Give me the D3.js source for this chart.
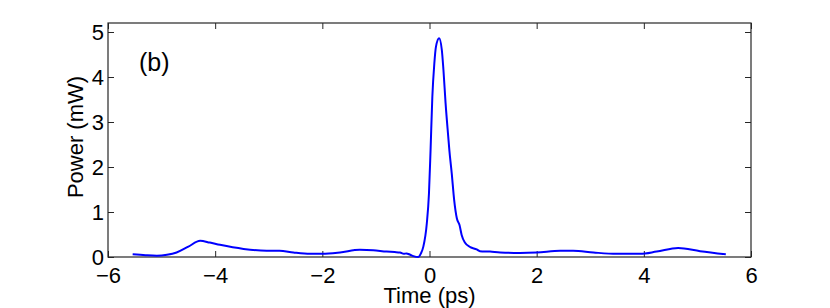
<!DOCTYPE html>
<html>
<head>
<meta charset="utf-8">
<script src="https://cdn.jsdelivr.net/npm/d3@7"></script>
<style>
  body { margin: 0; background: #fff; }
  svg { display: block; font-family: "Liberation Sans", Arial, Helvetica, sans-serif; }
</style>
</head>
<body>
<svg id="chart" width="830" height="308"></svg>
<script>
const timePs = [-5.54,-5.3,-5.09,-4.9,-4.72,-4.5,-4.28,-4.1,-3.91,-3.47,-3.04,-2.8,-2.54,-2.23,-2.0,-1.67,-1.3,-1.05,-0.8,-0.65,-0.55,-0.48,-0.43,-0.36,-0.3,-0.21,-0.16,-0.115,-0.05,-0.01,0.02,0.053,0.09,0.12,0.18,0.23,0.26,0.3,0.35,0.37,0.415,0.46,0.51,0.56,0.6,0.66,0.76,0.88,0.94,1.13,1.32,1.69,2.0,2.44,2.68,3.06,3.49,3.93,4.24,4.64,5.05,5.53];
const powerMw = [0.06,0.04,0.03,0.05,0.10,0.23,0.36,0.32,0.27,0.18,0.14,0.14,0.10,0.07,0.07,0.10,0.16,0.15,0.12,0.11,0.10,0.07,0.08,0.05,0.02,0.00,0.08,0.23,0.75,1.41,2.38,3.56,4.30,4.67,4.86,4.60,4.16,3.42,2.67,2.38,1.86,1.27,0.86,0.71,0.49,0.32,0.22,0.17,0.13,0.12,0.10,0.09,0.10,0.14,0.14,0.10,0.07,0.07,0.12,0.20,0.13,0.06];
const xTicks = [-6,-4,-2,0,2,4,6];
const yTicks = [0,1,2,3,4,5];
const xLabel = "Time (ps)";
const yLabel = "Power (mW)";
const panelLabel = "(b)";

const W = 830, H = 308;
const m = {left: 108, right: 79, top: 23, bottom: 51};
const iw = W - m.left - m.right, ih = H - m.top - m.bottom;

const svg = d3.select("#chart");
const g = svg.append("g").attr("transform", `translate(${m.left},${m.top})`);

const x = d3.scaleLinear().domain([-6, 6]).range([0, iw]);
const y = d3.scaleLinear().domain([0, 5.2]).range([ih, 0]);

const axisColor = "#262626";
const tickLen = 6;
const fs = 22;

function styleAxis(sel, showText) {
  sel.select(".domain").remove();
  sel.selectAll(".tick line").attr("stroke", axisColor).attr("stroke-width", 1);
  sel.selectAll(".tick text").attr("fill", "#000").style("font-size", fs + "px");
  if (!showText) sel.selectAll(".tick text").remove();
}

g.append("g").attr("transform", `translate(0,${ih})`)
  .call(d3.axisBottom(x).tickValues(xTicks).tickSizeInner(-tickLen).tickSizeOuter(0).tickPadding(10).tickFormat(d => d < 0 ? "\u2212" + Math.abs(d) : d))
  .call(s => styleAxis(s, true));
g.append("g")
  .call(d3.axisTop(x).tickValues(xTicks).tickSizeInner(-tickLen).tickSizeOuter(0))
  .call(s => styleAxis(s, false));
g.append("g")
  .call(d3.axisLeft(y).tickValues(yTicks).tickSizeInner(-tickLen).tickSizeOuter(0).tickPadding(4).tickFormat(d3.format("d")))
  .call(s => styleAxis(s, true));
g.append("g").attr("transform", `translate(${iw},0)`)
  .call(d3.axisRight(y).tickValues(yTicks).tickSizeInner(-tickLen).tickSizeOuter(0))
  .call(s => styleAxis(s, false));

g.append("rect").attr("x", 0).attr("y", 0).attr("width", iw).attr("height", ih)
  .attr("fill", "none").attr("stroke", axisColor).attr("stroke-width", 1.2);

const data = timePs.map((t, i) => ({t, p: powerMw[i]}));
g.append("path").datum(data)
  .attr("fill", "none").attr("stroke", "#0000ff").attr("stroke-width", 2)
  .attr("stroke-linejoin", "round")
  .attr("d", d3.line().x(d => x(d.t)).y(d => y(d.p)).curve(d3.curveMonotoneX));

svg.append("text").attr("x", m.left + iw / 2).attr("y", 303)
  .attr("text-anchor", "middle").style("font-size", fs + "px").text(xLabel);
svg.append("text").attr("transform", `translate(83,${m.top + ih / 2 - 3}) rotate(-90)`)
  .attr("text-anchor", "middle").style("font-size", fs + "px").text(yLabel);
g.append("text").attr("x", 31).attr("y", 48)
  .style("font-size", "25px").text(panelLabel);
</script>
</body>
</html>
